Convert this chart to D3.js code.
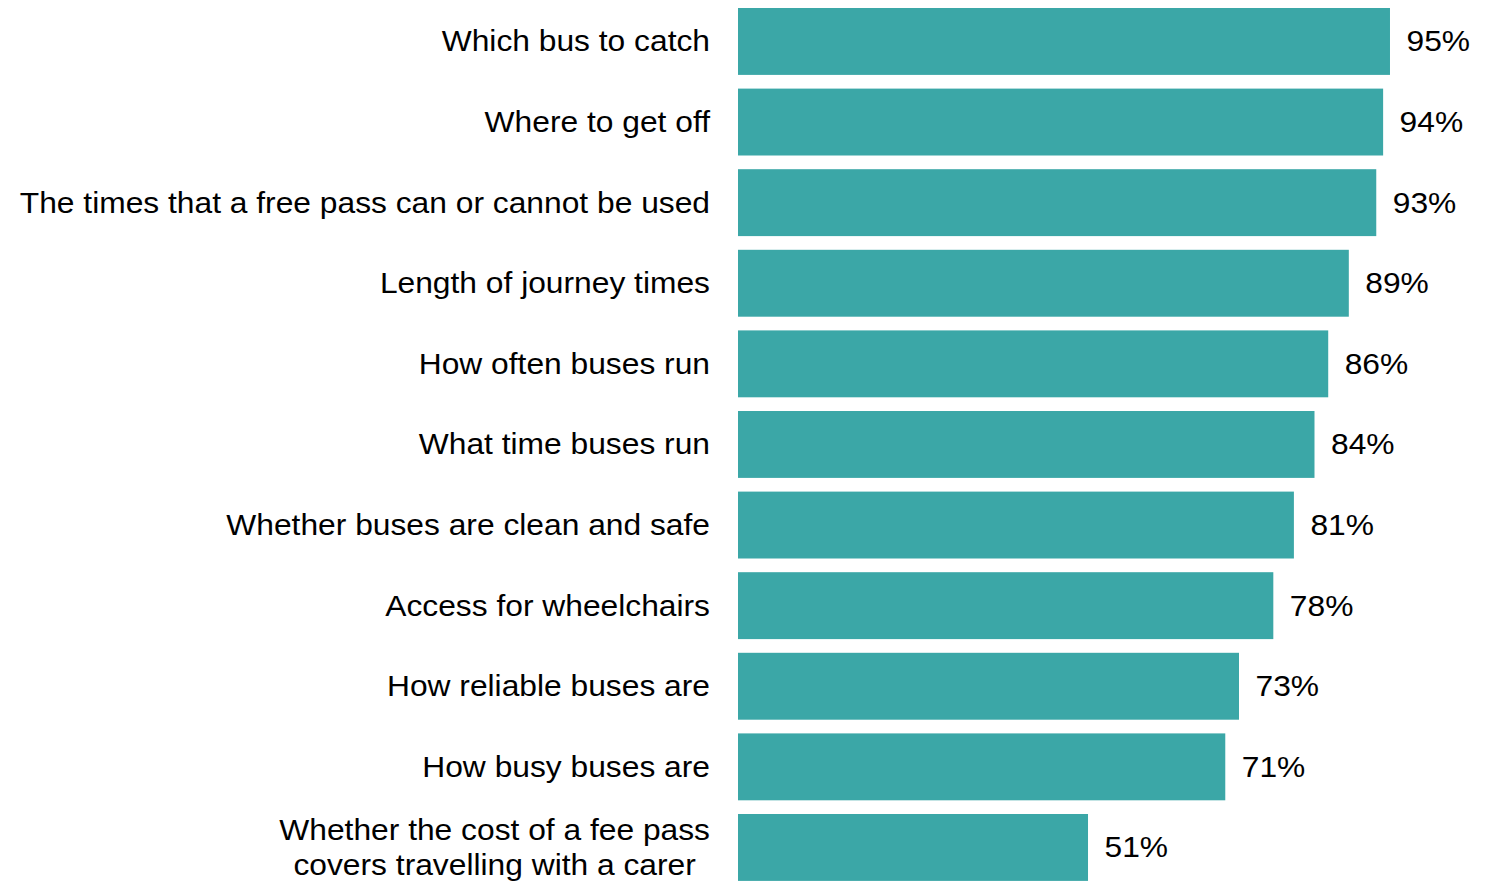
<!DOCTYPE html>
<html>
<head>
<meta charset="utf-8">
<script src="https://cdn.jsdelivr.net/npm/d3@7"></script>
<style>
  html, body { margin: 0; padding: 0; background: #ffffff; }
  svg text { font-family: "Liberation Sans", Arial, sans-serif; fill: #000; }
</style>
</head>
<body>
<svg id="chart" width="1489" height="882"></svg>
<script>
// Share of respondents who rated each item as important
const categories = [
  ["Which bus to catch"],
  ["Where to get off"],
  ["The times that a free pass can or cannot be used"],
  ["Length of journey times"],
  ["How often buses run"],
  ["What time buses run"],
  ["Whether buses are clean and safe"],
  ["Access for wheelchairs"],
  ["How reliable buses are"],
  ["How busy buses are"],
  ["Whether the cost of a fee pass", "covers travelling with a carer"]
];
const values = [95, 94, 93, 89, 86, 84, 81, 78, 73, 71, 51];
const valueLabels = values.map(v => v + "%");

const svg = d3.select("#chart");
const barColor = "#3ba7a7";
const fontSize = 29;
const stretch = 1.095;   // slightly wide lettering
const lineGap = 35;
const labelRight = 710;

const x = d3.scaleLinear().domain([0, 100]).range([738, 1424.3]);
const y = d3.scaleBand()
  .domain(d3.range(categories.length))
  .range([1.15, 1.15 + 80.6 * categories.length])
  .paddingInner(0.17)
  .paddingOuter(0.085);

// widen a text element horizontally, keeping its anchor
function widen(sel) {
  sel.each(function() {
    const w = this.getComputedTextLength();
    d3.select(this)
      .attr("textLength", w * stretch)
      .attr("lengthAdjust", "spacingAndGlyphs");
  });
  return sel;
}

const rows = svg.selectAll("g.row")
  .data(values)
  .join("g")
  .attr("class", "row");

rows.append("rect")
  .attr("x", x(0))
  .attr("y", (d, i) => y(i))
  .attr("width", d => x(d) - x(0))
  .attr("height", y.bandwidth())
  .attr("fill", barColor);

widen(rows.append("text")
  .attr("x", d => x(d) + 16.5)
  .attr("y", (d, i) => y(i) + y.bandwidth() / 2)
  .attr("dominant-baseline", "central")
  .attr("font-size", fontSize)
  .text((d, i) => valueLabels[i]));

// Category labels: right-aligned block, multi-line labels centred within it
rows.each(function(d, i) {
  const lines = categories[i];
  const cy = y(i) + y.bandwidth() / 2;
  const g = d3.select(this);
  const texts = lines.map((line, k) =>
    g.append("text")
      .attr("y", cy + (k - (lines.length - 1) / 2) * lineGap)
      .attr("dominant-baseline", "central")
      .attr("font-size", fontSize)
      .text(line)
  );
  const widths = texts.map(t => t.node().getComputedTextLength() * stretch);
  texts.forEach((t, k) => t.attr("textLength", widths[k]).attr("lengthAdjust", "spacingAndGlyphs"));
  if (lines.length === 1) {
    texts[0].attr("x", labelRight).attr("text-anchor", "end");
  } else {
    const maxW = d3.max(widths);
    texts.forEach(t => t.attr("x", labelRight - maxW / 2).attr("text-anchor", "middle"));
  }
});
</script>
</body>
</html>
